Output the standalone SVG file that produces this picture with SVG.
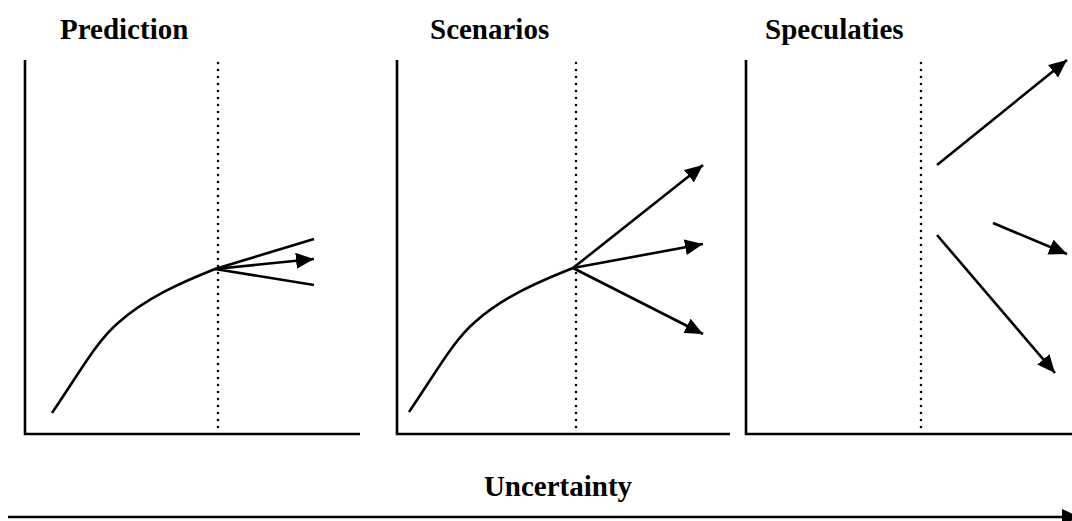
<svg xmlns="http://www.w3.org/2000/svg" width="1072" height="521" viewBox="0 0 1072 521">
<style>
.t{font-family:"Liberation Serif","Times New Roman",serif;font-weight:bold;font-size:29px;fill:#000}
.ax{stroke:#000;stroke-width:2.6;fill:none}
.dot{stroke:#000;stroke-width:2.6;stroke-dasharray:0 7;stroke-linecap:round;fill:none}
.ln{stroke:#000;stroke-width:2.6;fill:none}
.ar{stroke:#000;stroke-width:2.6;fill:none;marker-end:url(#ah)}
</style>
<defs>
<marker id="ah" markerUnits="userSpaceOnUse" markerWidth="20" markerHeight="16" refX="18" refY="8" orient="auto">
<path d="M0,0 L18,8 L0,16 Z" fill="#000"/>
</marker>
</defs>
<rect width="1072" height="521" fill="#fff"/>
<g id="panel-prediction">
<text class="t" x="60" y="39">Prediction</text>
<path class="ax" d="M25,60 V434 H360"/>
<line class="dot" x1="218" y1="63" x2="218" y2="431"/>
<path class="ln" d="M52,413 C80,372 96,342 118,323 C146,298 180,283 215,269"/>
</g>
<g id="panel-scenarios">
<text class="t" x="430" y="39">Scenarios</text>
<path class="ax" d="M397,60 V434 H730"/>
<line class="dot" x1="576" y1="63" x2="576" y2="431"/>
<path class="ln" d="M409,412 C437,371 453,341 475,322 C503,297 538,282 573,268"/>
</g>
<g id="panel-speculaties">
<text class="t" x="765" y="39">Speculaties</text>
<path class="ax" d="M746,60 V434 H1072"/>
<line class="dot" x1="921" y1="63" x2="921" y2="431"/>
</g>
<g id="uncertainty">
<text class="t" x="558" y="496" text-anchor="middle">Uncertainty</text>
</g>
<g id="connectors">
<line class="ln" x1="215" y1="269" x2="314" y2="239"/>
<line class="ar" x1="215" y1="269" x2="314" y2="259"/>
<line class="ln" x1="215" y1="269" x2="314" y2="285"/>
<line class="ar" x1="573" y1="268" x2="703" y2="165"/>
<line class="ar" x1="573" y1="268" x2="703" y2="244"/>
<line class="ar" x1="573" y1="268" x2="703" y2="334"/>
<line class="ar" x1="937" y1="165" x2="1067" y2="60"/>
<line class="ar" x1="993" y1="223" x2="1067" y2="254"/>
<line class="ar" x1="937" y1="235" x2="1055" y2="373"/>
<line class="ar" x1="8" y1="517" x2="1080" y2="517"/>
</g>
</svg>
